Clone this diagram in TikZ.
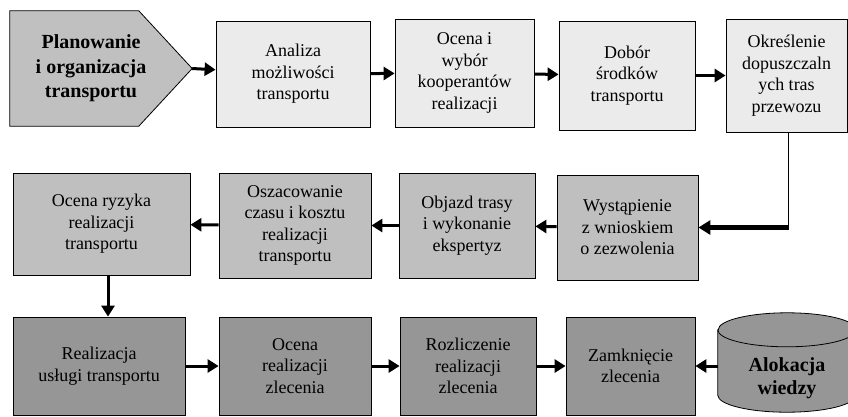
\documentclass[tikz,border=0pt]{standalone}
\usepackage{fontspec}
\setmainfont{Liberation Serif}
\usepackage{tikz}
\usetikzlibrary{arrows.meta, positioning, backgrounds}

\definecolor{topgray}{HTML}{EBEBEB}
\definecolor{plangray}{HTML}{C0C0C0}
\definecolor{midgray}{HTML}{BFBFBF}
\definecolor{botgray}{HTML}{969696}

\begin{document}
\begin{tikzpicture}[x=1pt, y=-1pt,
    box/.style={rectangle, draw, line width=0.8pt, align=center, inner sep=2pt, font=\fontsize{18}{21.5}\selectfont},
    flow/.style={-{Triangle[length=11pt, width=13pt]}, line width=3pt}]
    \useasboundingbox (0,0) rectangle (848,416);
    \clip (0,0) rectangle (848,416);

    % Top row: planning and preparation
    \node (plan) [minimum width=162pt, minimum height=115pt, align=center, font=\bfseries\fontsize{20}{24.5}\selectfont] at (91,68.5) {Planowanie\\i organizacja\\transportu};
    \node (anal) [box, fill=topgray, minimum width=154pt, minimum height=106pt] at (293,74) {Analiza\\możliwości\\transportu};
    \node (koop) [box, fill=topgray, minimum width=139pt, minimum height=108pt] at (464.5,73) {Ocena i\\wybór\\kooperantów\\realizacji};
    \node (dobor) [box, fill=topgray, minimum width=136pt, minimum height=109pt] at (627,75.5) {Dobór\\środków\\transportu};
    \node (trasy) [box, fill=topgray, minimum width=121pt, minimum height=113pt] at (786.5,75.5) {Określenie\\dopuszczaln\\ych tras\\przewozu};
    \coordinate (tip) at ([xshift=20pt]plan.east);

    % Middle row: permits and risk
    \node (wniosek) [box, fill=midgray, minimum width=141pt, minimum height=105pt] at (627.5,227.5) {Wystąpienie\\z wnioskiem\\o zezwolenia};
    \node (objazd) [box, fill=midgray, minimum width=136pt, minimum height=105pt] at (467,225.5) {Objazd trasy\\i wykonanie\\ekspertyz};
    \node (koszt) [box, fill=midgray, minimum width=152pt, minimum height=105pt] at (295,225.5) {Oszacowanie\\czasu i kosztu\\realizacji\\transportu};
    \node (ryzyko) [box, fill=midgray, minimum width=177pt, minimum height=102pt] at (101.5,224) {Ocena ryzyka\\realizacji\\transportu};

    % Bottom row: execution and closing
    \node (real) [box, fill=botgray, minimum width=172pt, minimum height=98pt] at (99,366) {Realizacja\\usługi transportu};
    \node (ocena) [box, fill=botgray, minimum width=152pt, minimum height=98pt] at (295,366) {Ocena\\realizacji\\zlecenia};
    \node (rozl) [box, fill=botgray, minimum width=136pt, minimum height=98pt] at (468,366) {Rozliczenie\\realizacji\\zlecenia};
    \node (zamk) [box, fill=botgray, minimum width=129pt, minimum height=98pt] at (630.5,366) {Zamknięcie\\zlecenia};
    \node (wiedza) [minimum width=138pt, minimum height=99pt,
        label={[yshift=-16pt, align=center, font=\bfseries\fontsize{20}{23}\selectfont]center:Alokacja\\wiedzy}] at (787,362.5) {};

    % Outlines of the arrow box and the data store
    \begin{pgfonlayer}{background}
        \draw[line width=0.8pt, fill=plangray] (plan.north west) -- ([xshift=129pt]plan.north west) -- (tip) -- ([xshift=129pt]plan.south west) -- (plan.south west) -- cycle;
        \draw[line width=0.8pt, fill=botgray] ([yshift=-17pt]wiedza.north west) -- ([yshift=17pt]wiedza.south west) arc (180:360:69pt and 17pt) -- ([yshift=-17pt]wiedza.north east) arc (0:180:69pt and 17pt) -- cycle;
        \draw[line width=0.8pt] ([yshift=-17pt]wiedza.north west) arc (180:360:69pt and 17pt);
    \end{pgfonlayer}

    % Arrows between steps
    \draw[flow] (tip) -- (anal);
    \draw[flow] (anal) -- (koop);
    \draw[flow] (koop) -- (dobor);
    \draw[flow] (dobor) -- (trasy);
    \coordinate (bend) at (trasy.south |- wniosek.east);
    \draw[line width=1pt] ([xshift=1.5pt]trasy.south) -- ([xshift=1.5pt]bend);
    \draw[-{Triangle[length=12pt, width=14pt]}, line width=4.5pt] ([xshift=2pt]bend) -- (wniosek);
    \draw[flow] (wniosek) -- (objazd);
    \draw[flow] (objazd) -- (koszt);
    \draw[flow] (koszt) -- (ryzyko);
    \draw[flow] ([xshift=6.5pt]ryzyko.south) -- ([xshift=6.5pt]ryzyko.south |- real.north);
    \draw[flow] (real) -- (ocena);
    \draw[flow] (ocena) -- (rozl);
    \draw[flow] (rozl) -- (zamk);
    \draw[flow] (wiedza.west |- zamk.east) -- (zamk);
\end{tikzpicture}
\end{document}
